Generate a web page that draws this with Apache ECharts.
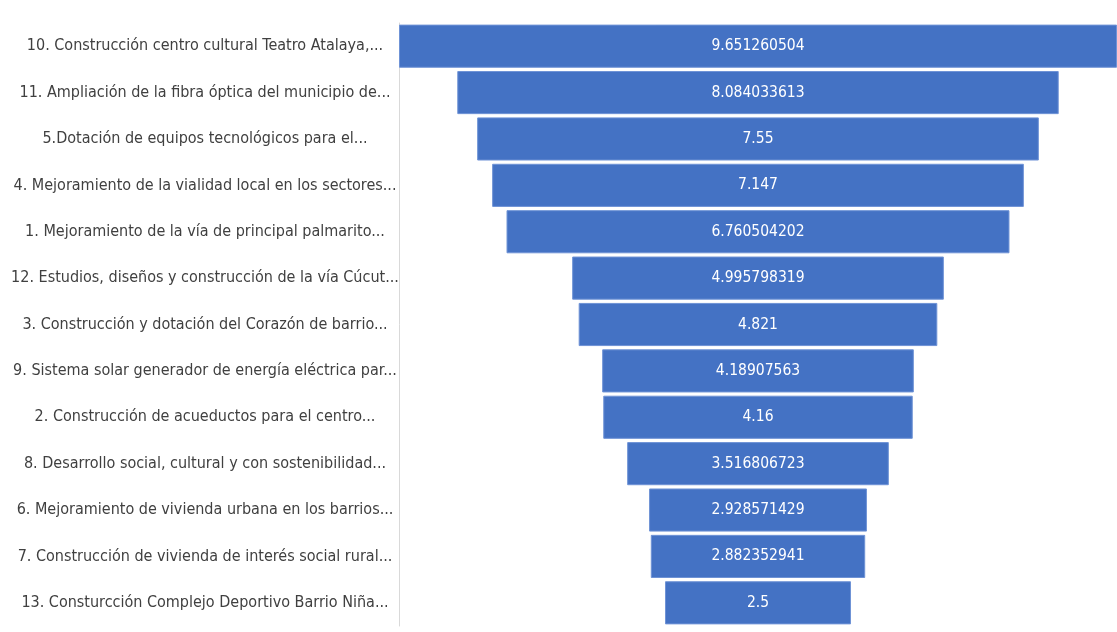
<!DOCTYPE html>
<html>
<head>
<meta charset="utf-8">
<script src="https://cdn.jsdelivr.net/npm/echarts@6/dist/echarts.min.js"></script>
<style>
html,body{margin:0;padding:0;background:#fff;}
#chart{width:1117px;height:632px;}
</style>
</head>
<body>
<div id="chart"></div>
<script>
var categories = [
  "10. Construcción centro cultural Teatro Atalaya,...",
  "11. Ampliación de la fibra óptica del municipio de...",
  "5.Dotación de equipos tecnológicos para el...",
  "4. Mejoramiento de la vialidad local en los sectores...",
  "1. Mejoramiento de la vía de principal palmarito...",
  "12. Estudios, diseños y construcción de la vía Cúcut...",
  "3. Construcción y dotación del Corazón de barrio...",
  "9. Sistema solar generador de energía eléctrica par...",
  "2. Construcción de acueductos para el centro...",
  "8. Desarrollo social, cultural y con sostenibilidad...",
  "6. Mejoramiento de vivienda urbana en los barrios...",
  "7. Construcción de vivienda de interés social rural...",
  "13. Consturcción Complejo Deportivo Barrio Niña..."
];
var values = [9.651260504, 8.084033613, 7.55, 7.147, 6.760504202, 4.995798319, 4.821, 4.18907563, 4.16, 3.516806723, 2.928571429, 2.882352941, 2.5];

var maxV = Math.max.apply(null, values);
var offsets = values.map(function(v){ return (maxV - v) / 2; });
var FONT = '"Liberation Sans Narrow", "DejaVu Sans Condensed", sans-serif';

var chart = echarts.init(document.getElementById('chart'));
chart.setOption({
  animation: false,
  grid: {left: 399, right: 0, top: 23, bottom: 6, containLabel: false, outerBoundsMode: 'none'},
  xAxis: {type: 'value', min: 0, max: maxV, show: false},
  yAxis: {
    type: 'category', data: categories, inverse: true,
    axisLine: {show: true, lineStyle: {color: '#d9d9d9', width: 1}},
    axisTick: {show: false},
    axisLabel: {align: 'center', margin: 194, color: '#404040', fontSize: 16, fontFamily: FONT}
  },
  series: [
    {type: 'bar', stack: 'f', data: offsets, itemStyle: {color: 'transparent'}, barCategoryGap: '7%', silent: true},
    {type: 'bar', stack: 'f', data: values, barCategoryGap: '7%',
     itemStyle: {color: '#4472C4', borderColor: '#6f93d6', borderWidth: 1},
     label: {show: true, position: 'inside', color: '#ffffff', fontSize: 15.5, fontFamily: FONT,
       formatter: function(p){ return String(values[p.dataIndex]); }}}
  ]
});
</script>
</body>
</html>
